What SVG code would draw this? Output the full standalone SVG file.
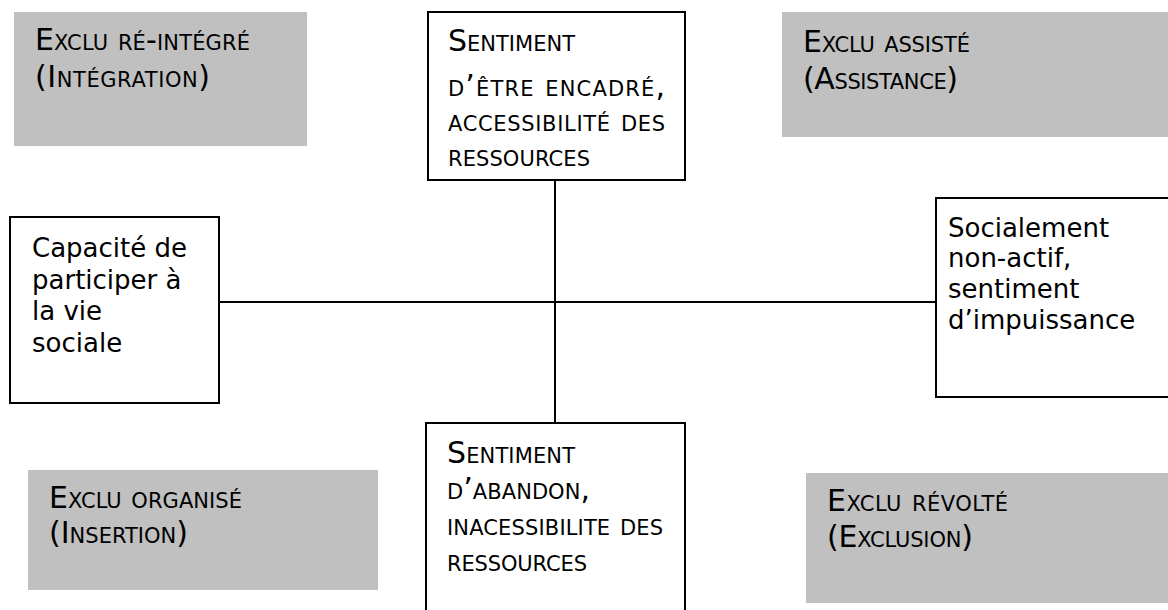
<svg xmlns="http://www.w3.org/2000/svg" width="1168" height="610" viewBox="0 0 1168 610">
<style>
.bg{fill:#ffffff}
.gray{fill:#c0c0c0;stroke:none}
.box{fill:#ffffff;stroke:#000000;stroke-width:2}
.line{stroke:#000000;stroke-width:2;fill:none}
.t{font-family:"DejaVu Sans","Liberation Sans",sans-serif;font-size:26px;fill:#000000}
.sc{font-family:"DejaVu Sans","Liberation Sans",sans-serif;font-size:30px;font-variant:small-caps;fill:#000000}
</style>
<rect class="bg" x="0" y="0" width="1168" height="610"/>
<g id="connectors">
<line class="line" x1="219" y1="302" x2="936" y2="302"/>
<line class="line" x1="555" y1="180" x2="555" y2="423"/>
</g>
<g id="exclu-reintegre">
<rect class="gray" x="14" y="12" width="293" height="134"/>
<text class="sc" x="35" y="50" textLength="215" lengthAdjust="spacing">Exclu ré-intégré</text>
<text class="sc" x="35" y="87" textLength="175" lengthAdjust="spacing">(Intégration)</text>
</g>
<g id="exclu-assiste">
<rect class="gray" x="782" y="12" width="386" height="125"/>
<text class="sc" x="803" y="52" textLength="167" lengthAdjust="spacing">Exclu assisté</text>
<text class="sc" x="803" y="89" textLength="155" lengthAdjust="spacing">(Assistance)</text>
</g>
<g id="exclu-organise">
<rect class="gray" x="28" y="470" width="350" height="120"/>
<text class="sc" x="49" y="508" textLength="193" lengthAdjust="spacing">Exclu organisé</text>
<text class="sc" x="49" y="543" textLength="139" lengthAdjust="spacing">(Insertion)</text>
</g>
<g id="exclu-revolte">
<rect class="gray" x="806" y="473" width="362" height="130"/>
<text class="sc" x="827" y="511" textLength="181" lengthAdjust="spacing">Exclu révolté</text>
<text class="sc" x="827" y="547" textLength="146" lengthAdjust="spacing">(Exclusion)</text>
</g>
<g id="encadre">
<rect class="box" x="428" y="12" width="257" height="168"/>
<text class="sc" x="448" y="51" textLength="127" lengthAdjust="spacing">Sentiment</text>
<text class="sc" x="448" y="96" textLength="217" lengthAdjust="spacing">d’être encadré,</text>
<text class="sc" x="448" y="131" textLength="217" lengthAdjust="spacing">accessibilité des</text>
<text class="sc" x="448" y="166" textLength="142" lengthAdjust="spacing">ressources</text>
</g>
<g id="abandon">
<rect class="box" x="426" y="423" width="259" height="200"/>
<text class="sc" x="447" y="463" textLength="128" lengthAdjust="spacing">Sentiment</text>
<text class="sc" x="447" y="499" textLength="143" lengthAdjust="spacing">d’abandon,</text>
<text class="sc" x="447" y="535" textLength="216" lengthAdjust="spacing">inacessibilite des</text>
<text class="sc" x="447" y="571" textLength="140" lengthAdjust="spacing">ressources</text>
</g>
<g id="capacite">
<rect class="box" x="10" y="217" width="209" height="186"/>
<text class="t" x="32" y="257">Capacité de</text>
<text class="t" x="32" y="289">participer à</text>
<text class="t" x="32" y="320">la vie</text>
<text class="t" x="32" y="352">sociale</text>
</g>
<g id="non-actif">
<rect class="box" x="936" y="198" width="240" height="199"/>
<text class="t" x="948" y="237">Socialement</text>
<text class="t" x="948" y="267">non-actif,</text>
<text class="t" x="948" y="298">sentiment</text>
<text class="t" x="948" y="329">d’impuissance</text>
</g>
</svg>
